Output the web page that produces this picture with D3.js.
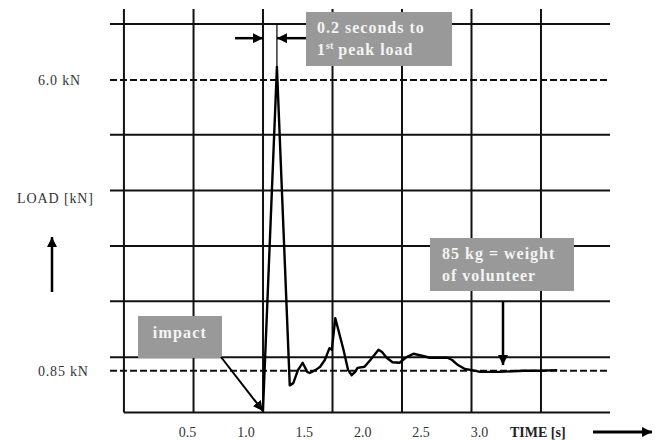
<!DOCTYPE html>
<html>
<head>
<meta charset="utf-8">
<script src="https://cdn.jsdelivr.net/npm/d3@7"></script>
<style>
  body { margin: 0; background: #fff; }
  svg { display: block; font-family: "Liberation Serif", "Times New Roman", serif; }
</style>
</head>
<body>
<div id="chart"></div>
<script>
// load curve, time in seconds, load in kN
const timeS = [1.15, 1.27, 1.38, 1.41, 1.45, 1.49, 1.50, 1.53, 1.55, 1.60, 1.64, 1.68, 1.72, 1.74,
  1.77, 1.79, 1.84, 1.88, 1.91, 1.94, 1.96, 2.02, 2.07, 2.14, 2.17, 2.21, 2.26, 2.32, 2.38, 2.44,
  2.52, 2.58, 2.73, 2.77, 2.82, 2.88, 2.94, 3.01, 3.18, 3.38, 3.52, 3.67];
const loadKN = [0.12, 6.23, 0.59, 0.63, 0.86, 0.99, 0.95, 0.83, 0.81, 0.86, 0.92, 1.04, 1.25, 1.22,
  1.78, 1.62, 1.22, 0.86, 0.77, 0.83, 0.90, 0.92, 1.04, 1.22, 1.18, 1.08, 1.00, 0.99, 1.09, 1.15,
  1.11, 1.08, 1.08, 1.04, 0.95, 0.88, 0.86, 0.83, 0.83, 0.85, 0.85, 0.86];

// grid and labels
const gridTimes = [-0.04, 0.556, 1.151, 1.746, 2.341, 2.936, 3.531];
const gridLoads = [0.11, 1.09, 2.08, 3.06, 4.04, 5.03, 6.99];
const refLoads = [0.85, 6.0];
const refLabels = ["0.85 kN", "6.0 kN"];
const tickTimes = [0.5, 1.0, 1.5, 2.0, 2.5, 3.0];
const tickLabels = ["0.5", "1.0", "1.5", "2.0", "2.5", "3.0"];

const width = 657;
const height = 440;
const gridLeft = 110;
const gridRight = 610;
const gridTop = 9;

const svg = d3.select("#chart").append("svg")
  .attr("width", width)
  .attr("height", height);

const defs = svg.append("defs");
defs.append("marker")
  .attr("id", "head")
  .attr("viewBox", "0 0 10 10")
  .attr("refX", 10).attr("refY", 5)
  .attr("markerWidth", 10).attr("markerHeight", 10)
  .attr("markerUnits", "userSpaceOnUse")
  .attr("orient", "auto")
  .append("path").attr("d", "M0,0L10,5L0,10Z").attr("fill", "#000");

const x = d3.scaleLinear().domain([0, 4.122]).range([128.6, 610]);
const y = d3.scaleLinear().domain([0, 7]).range([418.7, 23.5]);

const yBottom = y(gridLoads[0]);

// horizontal grid
svg.append("g")
  .selectAll("line")
  .data(gridLoads)
  .join("line")
  .attr("x1", (d, i) => (i === 0 ? x(gridTimes[0]) : gridLeft))
  .attr("x2", gridRight)
  .attr("y1", d => y(d))
  .attr("y2", d => y(d))
  .attr("stroke", "#111")
  .attr("stroke-width", 2);

// reference (dashed) lines
svg.append("g")
  .selectAll("line")
  .data(refLoads)
  .join("line")
  .attr("x1", gridLeft)
  .attr("x2", gridRight)
  .attr("y1", d => y(d))
  .attr("y2", d => y(d))
  .attr("stroke", "#111")
  .attr("stroke-width", 2)
  .attr("stroke-dasharray", "7,3");

// vertical grid
svg.append("g")
  .selectAll("line")
  .data(gridTimes)
  .join("line")
  .attr("x1", d => x(d))
  .attr("x2", d => x(d))
  .attr("y1", gridTop)
  .attr("y2", yBottom)
  .attr("stroke", "#111")
  .attr("stroke-width", 2);

// load curve
const line = d3.line()
  .x(d => x(d[0]))
  .y(d => y(d[1]));

svg.append("path")
  .datum(timeS.map((t, i) => [t, loadKN[i]]))
  .attr("d", line)
  .attr("fill", "none")
  .attr("stroke", "#000")
  .attr("stroke-width", 2.4)
  .attr("stroke-linejoin", "round");

// x tick labels
const xAxis = d3.axisBottom(x)
  .tickValues(tickTimes)
  .tickFormat((d, i) => tickLabels[i])
  .tickSize(0);

const gx = svg.append("g")
  .attr("transform", `translate(0, ${yBottom + 12})`)
  .call(xAxis);
gx.select(".domain").remove();
gx.selectAll("text")
  .attr("font-family", "Liberation Serif, serif")
  .attr("font-size", 14)
  .attr("fill", "#333");

svg.append("text")
  .attr("x", 510).attr("y", 437)
  .attr("font-size", 14).attr("font-weight", "bold").attr("fill", "#222")
  .text("TIME [s]");

svg.append("line")
  .attr("x1", 593).attr("x2", 652)
  .attr("y1", 432).attr("y2", 432)
  .attr("stroke", "#000").attr("stroke-width", 3)
  .attr("marker-end", "url(#head)");

// y labels
svg.append("g")
  .selectAll("text")
  .data(refLoads)
  .join("text")
  .attr("x", 38)
  .attr("y", d => y(d) + 5)
  .attr("font-size", 14)
  .attr("letter-spacing", 0.8)
  .attr("fill", "#333")
  .text((d, i) => refLabels[i]);

svg.append("text")
  .attr("x", 17).attr("y", 203)
  .attr("font-size", 14).attr("letter-spacing", 0.9).attr("fill", "#333")
  .text("LOAD [kN]");

svg.append("line")
  .attr("x1", 52).attr("x2", 52)
  .attr("y1", 292).attr("y2", 237)
  .attr("stroke", "#000").attr("stroke-width", 2.5)
  .attr("marker-end", "url(#head)");

// peak annotation
const peakIdx = d3.maxIndex(loadKN);
const peakX = x(timeS[peakIdx]);
const impactX = x(timeS[0]);
const arrowY = y(6.74);

svg.append("line")
  .attr("x1", peakX).attr("x2", peakX)
  .attr("y1", y(gridLoads[gridLoads.length - 1])).attr("y2", y(loadKN[peakIdx]))
  .attr("stroke", "#000").attr("stroke-width", 1.2);

svg.append("line")
  .attr("x1", 235).attr("x2", impactX)
  .attr("y1", arrowY).attr("y2", arrowY)
  .attr("stroke", "#000").attr("stroke-width", 2.5)
  .attr("marker-end", "url(#head)");

svg.append("line")
  .attr("x1", 306).attr("x2", peakX)
  .attr("y1", arrowY).attr("y2", arrowY)
  .attr("stroke", "#000").attr("stroke-width", 2.5)
  .attr("marker-end", "url(#head)");

// callout boxes
function box(x0, y0, w, h) {
  svg.append("rect")
    .attr("x", x0).attr("y", y0)
    .attr("width", w).attr("height", h)
    .attr("fill", "#999");
}

box(306, 12, 146, 54);
const peakText = svg.append("g")
  .attr("font-size", 16).attr("font-weight", "bold")
  .attr("fill", "#f4f4f4").attr("letter-spacing", 1);
peakText.append("text").attr("x", 317).attr("y", 33).text("0.2 seconds to");
const t2 = peakText.append("text").attr("x", 317).attr("y", 55);
t2.append("tspan").text("1");
t2.append("tspan").attr("font-size", 10).attr("dy", -6).attr("letter-spacing", 0).text("st");
t2.append("tspan").attr("dy", 6).text(" peak load");

// impact
box(138, 316, 84, 42);
svg.append("text")
  .attr("x", 180).attr("y", 338)
  .attr("text-anchor", "middle")
  .attr("font-size", 16).attr("font-weight", "bold")
  .attr("fill", "#f4f4f4").attr("letter-spacing", 1.2)
  .text("impact");

svg.append("line")
  .attr("x1", 221).attr("y1", 357)
  .attr("x2", impactX).attr("y2", y(loadKN[0]) - 1)
  .attr("stroke", "#000").attr("stroke-width", 2)
  .attr("marker-end", "url(#head)");

// body weight
box(430, 238, 144, 53);
const wText = svg.append("g")
  .attr("font-size", 16).attr("font-weight", "bold")
  .attr("fill", "#f4f4f4").attr("letter-spacing", 1);
wText.append("text").attr("x", 442).attr("y", 259).text("85 kg = weight");
wText.append("text").attr("x", 442).attr("y", 281).text("of volunteer");

svg.append("line")
  .attr("x1", 503).attr("x2", 503)
  .attr("y1", y(gridLoads[2])).attr("y2", y(0.95))
  .attr("stroke", "#000").attr("stroke-width", 2.5)
  .attr("marker-end", "url(#head)");
</script>
</body>
</html>
